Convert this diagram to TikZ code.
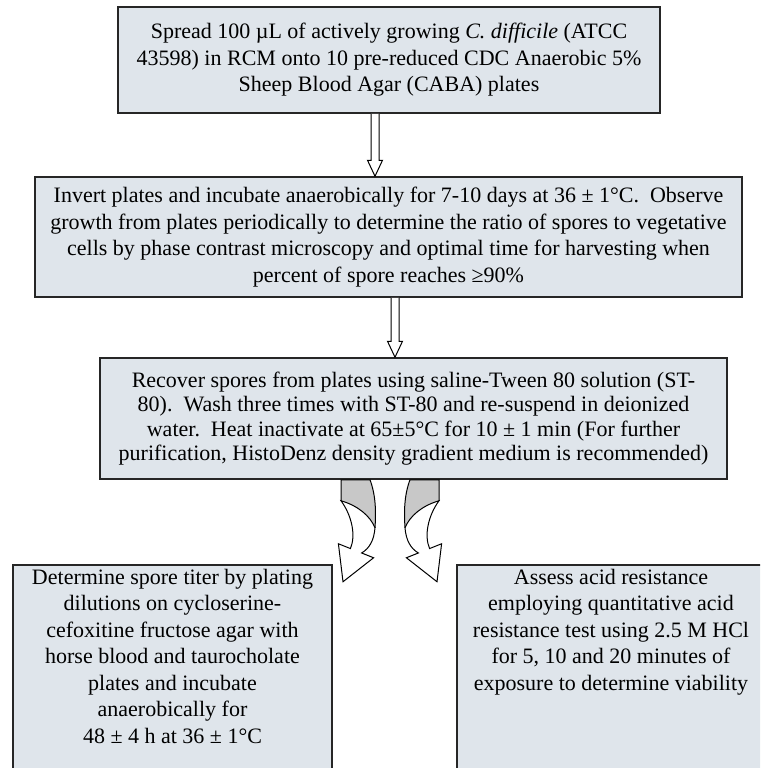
\documentclass[tikz,border=0pt]{standalone}
\usepackage{fontspec}
\setmainfont{Liberation Serif}
\usetikzlibrary{calc}
\definecolor{boxfill}{RGB}{223,229,235}
\definecolor{twist}{RGB}{200,200,200}
\tikzset{
  stepbox/.style={draw=black!85, line width=1.5pt, fill=boxfill, align=center,
    inner sep=4pt, font=\fontsize{22}{26.5}\selectfont},
  hollow/.style={draw=black, line width=1pt, fill=white, line join=miter},
}

\begin{document}
\begin{tikzpicture}[x=1pt, y=-1pt]
\useasboundingbox (0,0) rectangle (760,768);
\clip (0,0) rectangle (760,768);
\node[stepbox, minimum width=542pt, minimum height=106pt] (spread) at (389,60)
  {Spread 100 µL of actively growing \textit{C. difficile} (ATCC\\
   43598) in RCM onto 10 pre-reduced CDC Anaerobic 5\%\\
   Sheep Blood Agar (CABA) plates};
\node[stepbox, minimum width=707pt, minimum height=120pt] (invert) at (388.5,237)
  {Invert plates and incubate anaerobically for 7-10 days at 36 ± 1°C.~~Observe\\
   growth from plates periodically to determine the ratio of spores to vegetative\\
   cells by phase contrast microscopy and optimal time for harvesting when\\
   percent of spore reaches ≥90\%};
\node[stepbox, minimum width=627pt, minimum height=121pt,
  font=\fontsize{22}{24.5}\selectfont] (recover) at (413.5,418.5)
  {Recover spores from plates using saline-Tween 80 solution (ST-\\
   80).~~Wash three times with ST-80 and re-suspend in deionized\\
   water.~~Heat inactivate at 65±5°C for 10 ± 1 min (For further\\
   purification, HistoDenz density gradient medium is recommended)};
\node[stepbox, minimum width=319pt, text depth=200pt, anchor=north] (titer) at (172.5,564)
  {Determine spore titer by plating\\
   dilutions on cycloserine-\\
   cefoxitine fructose agar with\\
   horse blood and taurocholate\\
   plates and incubate\\
   anaerobically for\\
   48 ± 4 h at 36 ± 1°C};
\node[stepbox, minimum width=308pt, text depth=200pt, anchor=north] (acid) at (611,564)
  {Assess acid resistance\\
   employing quantitative acid\\
   resistance test using 2.5 M HCl\\
   for 5, 10 and 20 minutes of\\
   exposure to determine viability};
%
\coordinate (a1) at (375,0);
\coordinate (a2) at (395,0);
\draw[hollow] ($(spread.south -| a1)+(-4,0)$) -- ($(invert.north -| a1)+(-4,-16)$)
  -- ++(-3.5,0) -- (invert.north -| a1) -- ($(invert.north -| a1)+(7.5,-16)$)
  -- ++(-3.5,0) -- ($(spread.south -| a1)+(4,0)$);
\draw[hollow] ($(invert.south -| a2)+(-4,0)$) -- ($(recover.north -| a2)+(-4,-16)$)
  -- ++(-3.5,0) -- (recover.north -| a2) -- ($(recover.north -| a2)+(7.5,-16)$)
  -- ++(-3.5,0) -- ($(invert.south -| a2)+(4,0)$);
%
\coordinate (split) at ($(recover.south)+(-23.5,0)$);
\foreach \s in {1,-1}{
\begin{scope}[shift={(split)}, xscale=\s]
\fill[twist] (-49,0) -- (-20,0) .. controls (-14,16) and (-14,33) .. (-15,48)
  .. controls (-20,36) and (-32,26) .. (-49,21) -- cycle;
\filldraw[hollow] (-49,21) .. controls (-32,26) and (-20,36) .. (-15,48)
  .. controls (-16,61) and (-21,69) .. (-28.4,73.2) -- (-16.4,78) -- (-47,102)
  -- (-51.6,64) -- (-39.6,68.8) .. controls (-34,56) and (-38,36) .. (-49,21) -- cycle;
\draw[line width=1pt] (-49,21) -- (-49,0) -- (-20,0) .. controls (-14,16) and (-14,33) .. (-15,48);
\end{scope}
}
\end{tikzpicture}
\end{document}
